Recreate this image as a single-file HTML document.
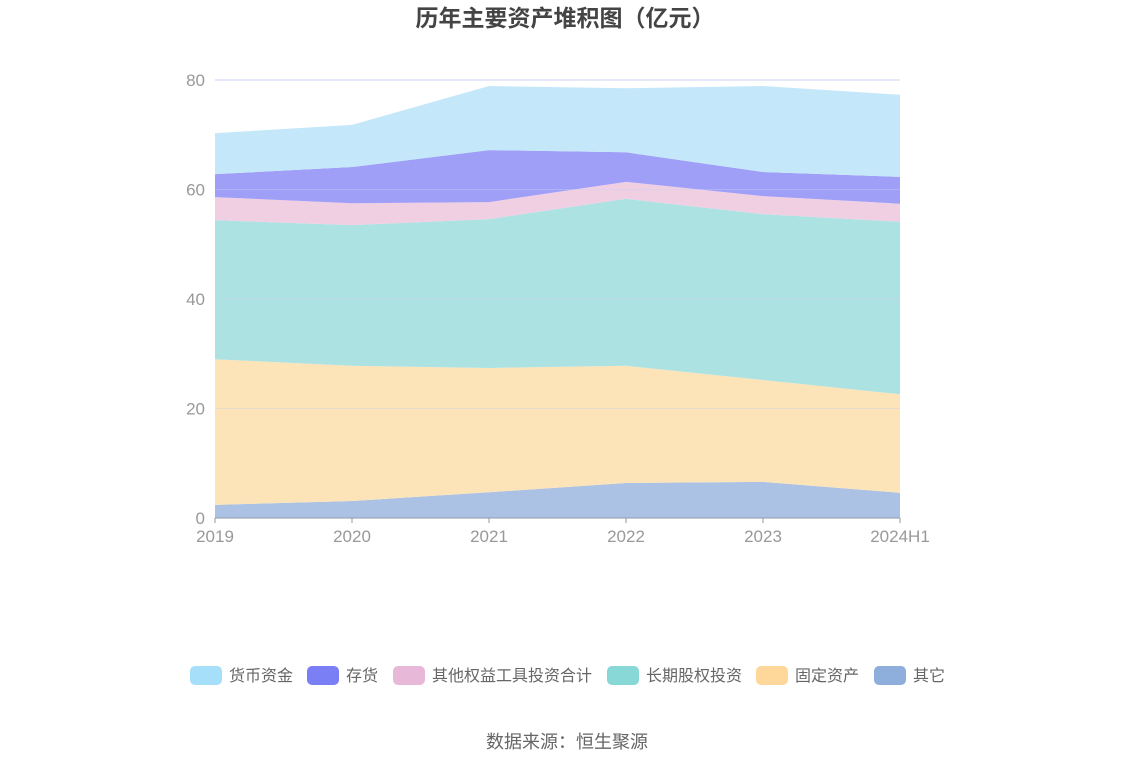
<!DOCTYPE html>
<html><head><meta charset="utf-8"><style>
body{margin:0;width:1134px;height:766px;background:#fff;font-family:"Liberation Sans","Noto Sans CJK SC",sans-serif;overflow:hidden}
</style></head><body>
<svg id="c" width="1134" height="766" xmlns="http://www.w3.org/2000/svg">
<text x="565" y="26" text-anchor="middle" font-size="23" font-weight="bold" fill="#444" font-family="Liberation Sans, Noto Sans CJK SC, sans-serif">历年主要资产堆积图（亿元）</text>
<text x="567" y="748" text-anchor="middle" font-size="18" fill="#666" font-family="Liberation Sans, Noto Sans CJK SC, sans-serif">数据来源：恒生聚源</text>
</svg>
<script>
const categories=["2019","2020","2021","2022","2023","2024H1"];
const seriesNames=["其它","固定资产","长期股权投资","其他权益工具投资合计","存货","货币资金"];
const other=[2.4,3.1,4.7,6.4,6.6,4.6];
const fixedAssets=[26.6,24.7,22.7,21.4,18.6,18.0];
const longTermEquity=[25.4,25.7,27.2,30.5,30.3,31.5];
const otherEquityInstr=[4.2,4.0,3.1,3.1,3.3,3.3];
const inventory=[4.2,6.6,9.5,5.4,4.4,4.9];
const cash=[7.5,7.7,11.7,11.7,15.7,15.0];
const yTicks=[0,20,40,60,80];
const series=[other,fixedAssets,longTermEquity,otherEquityInstr,inventory,cash];
const fills=["#acc2e4","#fde4b8","#ace2e2","#f0cfe3","#9f9ff8","#c4e8fa"];
const legendColors=["#a5dff9","#7b7ff5","#e8b8d8","#88d8d8","#fdd89a","#8eaedc"];
const legendNames=["货币资金","存货","其他权益工具投资合计","长期股权投资","固定资产","其它"];
const slugs=["other","fixed-assets","long-term-equity","other-equity-instruments","inventory","cash"];
const svg=document.getElementById('c');const NS="http://www.w3.org/2000/svg";
const x0=215,x1=900,y0=518,y80=80;
const xs=i=>x0+(x1-x0)*i/(categories.length-1);
const ys=v=>y0-(y0-y80)*v/80;
function mk(t,a){const e=document.createElementNS(NS,t);for(const k in a)e.setAttribute(k,a[k]);svg.appendChild(e);return e;}
let base=categories.map(()=>0);
series.forEach((s,k)=>{
  const top=base.map((b,i)=>b+s[i]);
  let d="M"+top.map((v,i)=>xs(i)+","+ys(v)).join(" L");
  for(let i=categories.length-1;i>=0;i--)d+=" L"+xs(i)+","+ys(base[i]);
  const p=mk('path',{d:d+"Z",fill:fills[k]});
  
  
  base=top;
});
yTicks.forEach(t=>{
  if(t>0){const l=mk('line',{x1:x0,x2:x1,y1:ys(t),y2:ys(t),stroke:"#c8d0f0","stroke-opacity":t===80?1:0.4});
  
  }
  const tx=mk('text',{x:205,y:ys(t)+6,"text-anchor":"end","font-size":17,fill:"#999"});tx.textContent=t;
  
  
});
const ax=mk('line',{x1:x0,x2:x1,y1:y0,y2:y0,stroke:"#8e9aaa"});


categories.forEach((c,i)=>{
  const tk=mk('line',{x1:xs(i),x2:xs(i),y1:y0,y2:y0+5,stroke:"#8e9aaa"});
  
  
  const tx=mk('text',{x:xs(i),y:542,"text-anchor":"middle","font-size":17,fill:"#999"});tx.textContent=c;
  
  
});
const legendX=[190,307,393,607,756,874];
legendNames.forEach((n,k)=>{
  const lx=legendX[k];
  const g=document.createElementNS(NS,'g');svg.appendChild(g);
  
  
  const r=document.createElementNS(NS,'rect');
  [['x',lx],['y',666],['width',32],['height',19],['rx',5],['fill',legendColors[k]]].forEach(a=>r.setAttribute(a[0],a[1]));
  g.appendChild(r);
  const t=document.createElementNS(NS,'text');
  [['x',lx+39],['y',681],['font-size',16],['fill','#666']].forEach(a=>t.setAttribute(a[0],a[1]));
  t.textContent=n;g.appendChild(t);
});
</script>
</body></html>
